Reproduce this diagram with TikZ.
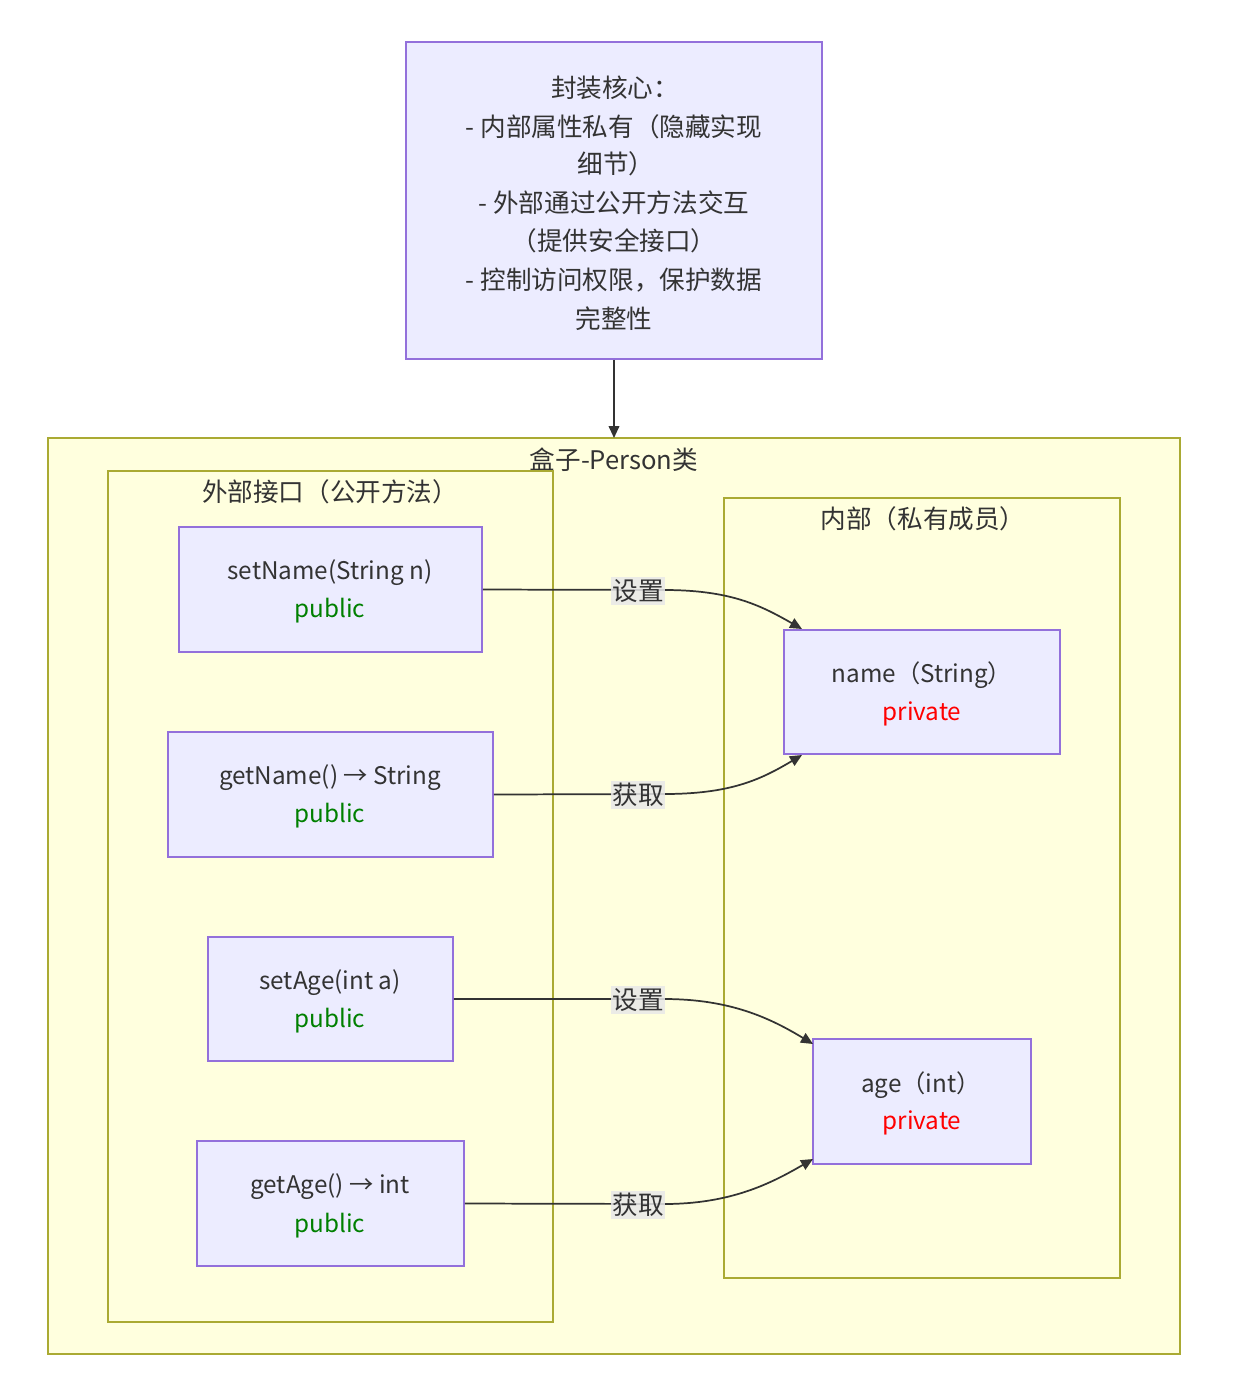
\documentclass[tikz,border=0pt]{standalone}
\usepackage{fontspec}
\setmainfont{Noto Sans CJK SC}
\usetikzlibrary{arrows.meta}
\definecolor{nodefill}{HTML}{ECECFF}
\definecolor{nodeborder}{HTML}{9370DB}
\definecolor{clfill}{HTML}{FFFFDE}
\definecolor{clborder}{HTML}{AAAA33}
\definecolor{txt}{HTML}{333333}
\definecolor{pubgreen}{HTML}{008000}
\definecolor{lblbg}{HTML}{E8E8E8}
\tikzset{
  x=0.75pt, y=-0.75pt,
  every node/.style={font=\fontsize{19.2}{28.9}\selectfont, text=txt},
  lat/.style={font=\fontsize{18.2}{28.9}\selectfont},
  nbox/.style={draw=nodeborder, fill=nodefill, line width=1.2pt, inner sep=0pt, align=center},
  cl/.style={draw=clborder, fill=clfill, line width=1.2pt},
  cltitle/.style={inner sep=0pt, anchor=center},
  conn/.style={draw=txt, line width=1.3pt, -{Triangle[length=9pt,width=8pt]}},
  elbl/.style={fill=lblbg, fill opacity=0.85, text opacity=1, inner xsep=1pt, inner ysep=2pt}
}
\begin{document}
\begin{tikzpicture}
\useasboundingbox (0,0) rectangle (1246,1393);
\fill[white] (0,0) rectangle (1246,1393);
% top box
\node[nbox, minimum width=416*0.75pt, minimum height=317*0.75pt] (core) at (614,200.5) {};
\node (t1) at (615,88) {封装核心：};
\node (t2) at (614,127) {- 内部属性私有（隐藏实现};
\node (t3) at (616,164) {细节）};
\node (t4) at (614,203) {- 外部通过公开方法交互};
\node (t5) at (614,241) {（提供安全接口）};
\node (t6) at (614,280) {- 控制访问权限，保护数据};
\node (t7) at (614,319) {完整性};
% clusters
\draw[cl] (48,438) rectangle (1180,1354);
\node[cltitle] (ctitle) at (614,460) {盒子-Person类};
\draw[cl] (108,471) rectangle (553,1322);
\node[cltitle] (ltitle) at (330,492) {外部接口（公开方法）};
\draw[cl] (724,498) rectangle (1120,1278);
\node[cltitle] (rtitle) at (923,519) {内部（私有成员）};
% arrow core -> cluster
\coordinate (clTop) at (614,438);
\draw[conn] (core.south) -- (clTop);
% method nodes
\node[nbox, minimum width=303*0.75pt, minimum height=125*0.75pt] (sn) at (330.5,589.5) {};
\node[lat] at (330,573) {setName(String n)};
\node[lat, text=pubgreen] at (330,611) {public};
\node[nbox, minimum width=325*0.75pt, minimum height=125*0.75pt] (gn) at (330.5,794.5) {};
\node[lat] at (330,778) {getName() → String};
\node[lat, text=pubgreen] at (330,816) {public};
\node[nbox, minimum width=245*0.75pt, minimum height=124*0.75pt] (sa) at (330.5,999) {};
\node[lat] at (330,983) {setAge(int a)};
\node[lat, text=pubgreen] at (330,1021) {public};
\node[nbox, minimum width=267*0.75pt, minimum height=125*0.75pt] (ga) at (330.5,1203.5) {};
\node[lat] at (330,1187) {getAge() → int};
\node[lat, text=pubgreen] at (330,1226) {public};
% private nodes
\node[nbox, minimum width=276*0.75pt, minimum height=124*0.75pt] (nm) at (922,692) {};
\node[lat] at (922,675) {name（String）};
\node[lat, text=red] at (922,714) {private};
\node[nbox, minimum width=218*0.75pt, minimum height=125*0.75pt] (ag) at (922,1101.5) {};
\node[lat] at (921,1085) {age（int）};
\node[lat, text=red] at (922,1123) {private};
% edges
\coordinate (e1) at (802,629);
\coordinate (e2) at (802,755);
\coordinate (e3) at (813,1044);
\coordinate (e4) at (813,1159);
\draw[conn] (sn.east) -- (664,590) .. controls (730,590) and (760,605) .. (e1);
\draw[conn] (gn.east) -- (664,794) .. controls (730,794) and (760,780) .. (e2);
\draw[conn] (sa.east) -- (664,999) .. controls (730,999) and (770,1018) .. (e3);
\draw[conn] (ga.east) -- (664,1204) .. controls (730,1204) and (770,1184) .. (e4);
\node[elbl] (l1) at (638,591) {设置};
\node[elbl] (l2) at (638,795) {获取};
\node[elbl] (l3) at (638,1000) {设置};
\node[elbl] (l4) at (638,1205) {获取};
\end{tikzpicture}
\end{document}
